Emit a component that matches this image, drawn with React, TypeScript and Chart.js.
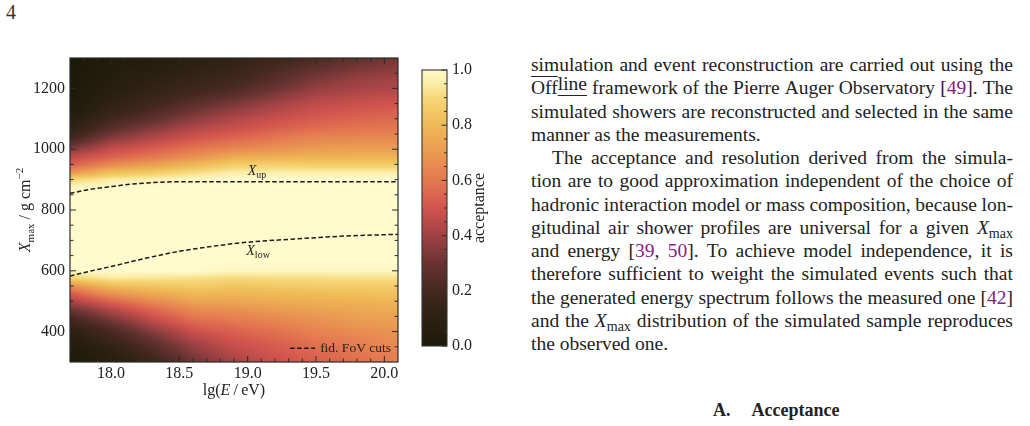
import React, { useEffect, useRef } from "react";
import { Chart, registerables } from "chart.js";

Chart.register(...registerables);

const SERIF = "'Liberation Serif', 'Times New Roman', Times, serif";
const INK = "#222222";
const CITE = "#852085";

// ---------- axes ----------
const E_MIN = 17.7;
const E_MAX = 20.1;
const XMAX_MIN = 300;
const XMAX_MAX = 1300;
const E_TICKS = [18.0, 18.5, 19.0, 19.5, 20.0];
const E_MINOR_TICKS = [17.8, 17.9, 18.1, 18.2, 18.3, 18.4, 18.6, 18.7, 18.8, 18.9, 19.1, 19.2, 19.3, 19.4, 19.6, 19.7, 19.8, 19.9];
const XMAX_TICKS = [400, 600, 800, 1000, 1200];
const XMAX_MINOR_TICKS = [350, 450, 500, 550, 650, 700, 750, 850, 900, 950, 1050, 1100, 1150, 1250];
const ACC_TICKS = [0, 0.2, 0.4, 0.6, 0.8, 1.0];
const ACC_MINOR_TICKS = [0.05, 0.1, 0.15, 0.25, 0.3, 0.35, 0.45, 0.5, 0.55, 0.65, 0.7, 0.75, 0.85, 0.9, 0.95];

// ---------- acceptance map ----------
const ENERGY_COLS = [17.7, 18.0, 18.3, 18.6, 18.9, 19.2, 19.5, 19.8, 20.1];
const XMAX_ROWS = [1300, 1275, 1250, 1225, 1200, 1175, 1150, 1125, 1100, 1075, 1050, 1025, 1000, 975, 950, 925, 900, 875, 850, 825, 800, 775, 750, 725, 700, 675, 650, 625, 600, 575, 550, 525, 500, 475, 450, 425, 400, 375, 350, 325, 300];

const ACC_E17_7 = [0.0, 0.0, 0.0, 0.0, 0.01, 0.01, 0.02, 0.03, 0.06, 0.1, 0.15, 0.23, 0.35, 0.45, 0.53, 0.67, 0.89, 0.98, 1, 1, 1, 1, 1, 1, 1, 1, 1, 1, 1, 0.88, 0.67, 0.52, 0.42, 0.31, 0.22, 0.15, 0.09, 0.06, 0.03, 0.02, 0.01];
const ACC_E18_0 = [0.03, 0.04, 0.05, 0.06, 0.07, 0.09, 0.11, 0.14, 0.19, 0.24, 0.31, 0.39, 0.47, 0.54, 0.65, 0.81, 0.95, 1, 1, 1, 1, 1, 1, 1, 1, 1, 1, 1, 1, 0.94, 0.81, 0.68, 0.55, 0.44, 0.36, 0.28, 0.21, 0.17, 0.12, 0.09, 0.06];
const ACC_E18_3 = [0.05, 0.06, 0.08, 0.1, 0.12, 0.15, 0.18, 0.22, 0.27, 0.33, 0.4, 0.46, 0.53, 0.6, 0.71, 0.85, 0.97, 1, 1, 1, 1, 1, 1, 1, 1, 1, 1, 1, 1, 0.93, 0.84, 0.75, 0.65, 0.56, 0.49, 0.42, 0.35, 0.29, 0.24, 0.2, 0.16];
const ACC_E18_6 = [0.09, 0.1, 0.12, 0.15, 0.17, 0.21, 0.26, 0.31, 0.36, 0.42, 0.47, 0.53, 0.6, 0.67, 0.79, 0.9, 0.99, 1, 1, 1, 1, 1, 1, 1, 1, 1, 1, 1, 1, 0.92, 0.86, 0.8, 0.73, 0.66, 0.6, 0.54, 0.48, 0.43, 0.38, 0.34, 0.31];
const ACC_E18_9 = [0.12, 0.14, 0.16, 0.19, 0.22, 0.27, 0.33, 0.38, 0.43, 0.47, 0.52, 0.58, 0.65, 0.75, 0.86, 0.95, 1, 1, 1, 1, 1, 1, 1, 1, 1, 1, 1, 1, 0.98, 0.9, 0.84, 0.79, 0.74, 0.68, 0.63, 0.58, 0.54, 0.5, 0.47, 0.44, 0.41];
const ACC_E19_2 = [0.17, 0.2, 0.23, 0.26, 0.3, 0.35, 0.4, 0.44, 0.48, 0.52, 0.57, 0.62, 0.68, 0.77, 0.87, 0.95, 1, 1, 1, 1, 1, 1, 1, 1, 1, 1, 1, 1, 0.98, 0.91, 0.85, 0.8, 0.76, 0.71, 0.66, 0.62, 0.58, 0.55, 0.52, 0.5, 0.48];
const ACC_E19_5 = [0.22, 0.26, 0.3, 0.34, 0.38, 0.42, 0.46, 0.49, 0.52, 0.56, 0.61, 0.66, 0.71, 0.78, 0.86, 0.95, 1, 1, 1, 1, 1, 1, 1, 1, 1, 1, 1, 1, 0.98, 0.91, 0.86, 0.81, 0.77, 0.73, 0.69, 0.66, 0.63, 0.6, 0.57, 0.55, 0.53];
const ACC_E19_8 = [0.27, 0.31, 0.35, 0.39, 0.41, 0.45, 0.48, 0.51, 0.55, 0.58, 0.62, 0.67, 0.72, 0.78, 0.86, 0.95, 1, 1, 1, 1, 1, 1, 1, 1, 1, 1, 1, 1, 0.98, 0.92, 0.86, 0.82, 0.78, 0.75, 0.72, 0.69, 0.66, 0.63, 0.61, 0.59, 0.57];
const ACC_E20_1 = [0.32, 0.35, 0.38, 0.41, 0.43, 0.47, 0.5, 0.53, 0.56, 0.59, 0.63, 0.67, 0.72, 0.78, 0.86, 0.95, 1, 1, 1, 1, 1, 1, 1, 1, 1, 1, 1, 1, 0.98, 0.92, 0.86, 0.83, 0.79, 0.76, 0.73, 0.71, 0.68, 0.67, 0.65, 0.63, 0.62];

// ---------- fiducial field-of-view cut lines ----------
const XUP_ENERGY = [17.7, 17.85, 18.0, 18.15, 18.3, 18.5, 19.0, 19.5, 20.1];
const XUP_VALUES = [855, 868, 877, 885, 890, 893, 893, 893, 893];
const XLOW_ENERGY = [17.7, 17.85, 18.0, 18.25, 18.5, 18.75, 19.0, 19.25, 19.5, 19.75, 20.1];
const XLOW_VALUES = [583, 599, 614, 641, 664, 681, 694, 702, 709, 715, 720];

// label anchors (data space)
const XUP_LABEL = { e: 19.0, x: 915 };
const XLOW_LABEL = { e: 18.99, x: 652 };

// ---------- colour map ----------
const CMAP_POS = [0.0, 0.1, 0.2, 0.3, 0.4, 0.5, 0.6, 0.7, 0.8, 0.9, 0.95, 1.0];
const CMAP_RGB = [
  [28, 25, 8], [44, 33, 18], [68, 40, 30], [105, 52, 50], [160, 66, 68], [210, 84, 78],
  [228, 120, 80], [234, 154, 82], [239, 185, 85], [246, 216, 120], [251, 236, 168], [255, 251, 205],
];

function colormap(v: number): number[] {
  const t = Math.max(0, Math.min(1, v));
  let i = 0;
  while (i < CMAP_POS.length - 2 && t > CMAP_POS[i + 1]) i++;
  const f = (t - CMAP_POS[i]) / (CMAP_POS[i + 1] - CMAP_POS[i]);
  const a = CMAP_RGB[i], b = CMAP_RGB[i + 1];
  return [a[0] + (b[0] - a[0]) * f, a[1] + (b[1] - a[1]) * f, a[2] + (b[2] - a[2]) * f];
}

const ACC_GRID = [ACC_E17_7, ACC_E18_0, ACC_E18_3, ACC_E18_6, ACC_E18_9, ACC_E19_2, ACC_E19_5, ACC_E19_8, ACC_E20_1];

function sampleAcceptance(e: number, xm: number): number {
  const cols = ENERGY_COLS, rows = XMAX_ROWS;
  let ci = 0;
  while (ci < cols.length - 2 && e > cols[ci + 1]) ci++;
  let tc = (e - cols[ci]) / (cols[ci + 1] - cols[ci]);
  tc = Math.max(0, Math.min(1, tc));
  let ri = 0;
  while (ri < rows.length - 2 && xm < rows[ri + 1]) ri++;
  let tr = (rows[ri] - xm) / (rows[ri] - rows[ri + 1]);
  tr = Math.max(0, Math.min(1, tr));
  const c0 = ACC_GRID[ci], c1 = ACC_GRID[ci + 1];
  const top = c0[ri] * (1 - tc) + c1[ri] * tc;
  const bot = c0[ri + 1] * (1 - tc) + c1[ri + 1] * tc;
  return top * (1 - tr) + bot * tr;
}

type Part = { t: string; font: string; dy?: number };
function drawParts(ctx: CanvasRenderingContext2D, parts: Part[], x: number, y: number, align: "left" | "center" | "right") {
  let total = 0;
  const widths = parts.map((p) => {
    ctx.font = p.font;
    const w = ctx.measureText(p.t).width;
    total += w;
    return w;
  });
  let cx = align === "left" ? x : align === "center" ? x - total / 2 : x - total;
  ctx.textAlign = "left";
  ctx.textBaseline = "alphabetic";
  parts.forEach((p, i) => {
    ctx.font = p.font;
    ctx.fillText(p.t, cx, y + (p.dy || 0));
    cx += widths[i];
  });
  return total;
}

const heatmapPlugin = {
  id: "heatmap",
  beforeDatasetsDraw(chart: any) {
    const { ctx, chartArea: a, scales } = chart;
    const xs = scales.x, ys = scales.y;
    const w = Math.round(a.right - a.left);
    const h = Math.round(a.bottom - a.top);
    const off = document.createElement("canvas");
    off.width = w;
    off.height = h;
    const octx = off.getContext("2d")!;
    const img = octx.createImageData(w, h);
    const evals: number[] = [];
    for (let i = 0; i < w; i++) evals.push(xs.getValueForPixel(a.left + i + 0.5));
    for (let j = 0; j < h; j++) {
      const xm = ys.getValueForPixel(a.top + j + 0.5);
      for (let i = 0; i < w; i++) {
        const c = colormap(sampleAcceptance(evals[i], xm));
        const k = (j * w + i) * 4;
        img.data[k] = c[0];
        img.data[k + 1] = c[1];
        img.data[k + 2] = c[2];
        img.data[k + 3] = 255;
      }
    }
    octx.putImageData(img, 0, 0);
    ctx.drawImage(off, a.left, a.top);
  },
};

const framePlugin = {
  id: "frameTicks",
  afterDatasetsDraw(chart: any) {
    const { ctx, chartArea: a, scales } = chart;
    const xs = scales.x, ys = scales.y;
    ctx.save();
    ctx.strokeStyle = "#2a2a2a";
    ctx.lineWidth = 1;
    ctx.beginPath();
    const seg = (x1: number, y1: number, x2: number, y2: number) => {
      ctx.moveTo(x1, y1);
      ctx.lineTo(x2, y2);
    };
    E_TICKS.forEach((v) => {
      const p = xs.getPixelForValue(v);
      seg(p, a.bottom, p, a.bottom - 6);
      seg(p, a.top, p, a.top + 6);
    });
    E_MINOR_TICKS.forEach((v) => {
      const p = xs.getPixelForValue(v);
      seg(p, a.bottom, p, a.bottom - 3.5);
      seg(p, a.top, p, a.top + 3.5);
    });
    XMAX_TICKS.forEach((v) => {
      const p = ys.getPixelForValue(v);
      seg(a.left, p, a.left + 6, p);
      seg(a.right, p, a.right - 6, p);
    });
    XMAX_MINOR_TICKS.forEach((v) => {
      const p = ys.getPixelForValue(v);
      seg(a.left, p, a.left + 3.5, p);
      seg(a.right, p, a.right - 3.5, p);
    });
    ctx.stroke();
    ctx.lineWidth = 1.2;
    ctx.strokeRect(a.left, a.top, a.right - a.left, a.bottom - a.top);

    // curve labels
    ctx.fillStyle = INK;
    drawParts(ctx, [
      { t: "X", font: `italic 14px ${SERIF}` },
      { t: "up", font: `10px ${SERIF}`, dy: 3 },
    ], xs.getPixelForValue(XUP_LABEL.e), ys.getPixelForValue(XUP_LABEL.x), "left");
    drawParts(ctx, [
      { t: "X", font: `italic 14px ${SERIF}` },
      { t: "low", font: `10px ${SERIF}`, dy: 3 },
    ], xs.getPixelForValue(XLOW_LABEL.e), ys.getPixelForValue(XLOW_LABEL.x), "left");

    // legend (bottom right)
    const legText = "fid. FoV cuts";
    ctx.font = `13.5px ${SERIF}`;
    const tw = ctx.measureText(legText).width;
    const tx = a.right - 7 - tw;
    const ly = a.bottom - 13.7;
    ctx.textAlign = "left";
    ctx.textBaseline = "middle";
    ctx.fillText(legText, tx, ly + 0.5);
    ctx.setLineDash([4.5, 2.5]);
    ctx.lineWidth = 1.5;
    ctx.strokeStyle = "#1a1a1a";
    ctx.beginPath();
    ctx.moveTo(tx - 30, ly);
    ctx.lineTo(tx - 5, ly);
    ctx.stroke();
    ctx.setLineDash([]);

    // axis titles
    const cx = (a.left + a.right) / 2;
    drawParts(ctx, [
      { t: "lg(", font: `16px ${SERIF}` },
      { t: "E", font: `italic 16px ${SERIF}` },
      { t: "\u2009/\u2009eV)", font: `16px ${SERIF}` },
    ], cx, a.bottom + 32.5, "center");

    ctx.save();
    ctx.translate(30, (a.top + a.bottom) / 2);
    ctx.rotate(-Math.PI / 2);
    drawParts(ctx, [
      { t: "X", font: `italic 16px ${SERIF}` },
      { t: "max", font: `11px ${SERIF}`, dy: 3.5 },
      { t: " / g cm", font: `16px ${SERIF}` },
      { t: "\u22122", font: `11px ${SERIF}`, dy: -7 },
    ], 0, 0, "center");
    ctx.restore();
    ctx.restore();
  },
};

const colorbarPlugin = {
  id: "colorbar",
  beforeDatasetsDraw(chart: any) {
    const { ctx, chartArea: a, scales } = chart;
    const ys = scales.y;
    ctx.save();
    for (let py = Math.floor(a.top); py < Math.ceil(a.bottom); py++) {
      const c = colormap(ys.getValueForPixel(py + 0.5));
      ctx.fillStyle = `rgb(${Math.round(c[0])},${Math.round(c[1])},${Math.round(c[2])})`;
      ctx.fillRect(a.left, py, a.right - a.left, 1);
    }
    ctx.strokeStyle = "#333";
    ctx.lineWidth = 1;
    ctx.beginPath();
    ACC_TICKS.forEach((v) => {
      const p = ys.getPixelForValue(v);
      ctx.moveTo(a.right, p);
      ctx.lineTo(a.right - 5.5, p);
    });
    ACC_MINOR_TICKS.forEach((v) => {
      const p = ys.getPixelForValue(v);
      ctx.moveTo(a.right, p);
      ctx.lineTo(a.right - 3, p);
    });
    ctx.stroke();
    ctx.lineWidth = 1.1;
    ctx.strokeRect(a.left, a.top, a.right - a.left, a.bottom - a.top);

    ctx.fillStyle = INK;
    ctx.save();
    ctx.translate(a.right + 37, (a.top + a.bottom) / 2);
    ctx.rotate(-Math.PI / 2);
    ctx.font = `16px ${SERIF}`;
    ctx.textAlign = "center";
    ctx.textBaseline = "alphabetic";
    ctx.fillText("acceptance", 0, 0);
    ctx.restore();
    ctx.restore();
  },
};

// ---------- right-hand text column ----------
const Cite = ({ n }: { n: string }) => <span style={{ color: CITE }}>{n}</span>;
const Xmax = () => (
  <span>
    <i>X</i>
    <span style={{ fontSize: "0.72em", position: "relative", top: "0.3em" }}>max</span>
  </span>
);
const words = (s: string) => s.split(" ").map((t) => <span>{t}</span>);

const LINES: { parts: React.ReactNode[]; justify: boolean; indent?: number }[] = [
  { parts: words("simulation and event reconstruction are carried out using the"), justify: true },
  {
    parts: [
      <span>
        <span style={{ textDecoration: "overline" }}>Off</span>
        <span
          style={{
            position: "relative",
            top: -4,
            textDecoration: "underline",
            textUnderlineOffset: "5px",
            textDecorationThickness: "1px",
          }}
        >
          line
        </span>
      </span>,
      ...words("framework of the Pierre Auger Observatory"),
      <span>[<Cite n="49" />].</span>,
      <span>The</span>,
    ],
    justify: true,
  },
  { parts: words("simulated showers are reconstructed and selected in the same"), justify: true },
  { parts: words("manner as the measurements."), justify: false },
  { parts: words("The acceptance and resolution derived from the simula-"), justify: true, indent: 21 },
  { parts: words("tion are to good approximation independent of the choice of"), justify: true },
  { parts: words("hadronic interaction model or mass composition, because lon-"), justify: true },
  { parts: [...words("gitudinal air shower profiles are universal for a given"), <Xmax />], justify: true },
  {
    parts: [
      ...words("and energy"),
      <span>[<Cite n="39" />,</span>,
      <span><Cite n="50" />].</span>,
      ...words("To achieve model independence, it is"),
    ],
    justify: true,
  },
  { parts: words("therefore sufficient to weight the simulated events such that"), justify: true },
  { parts: [...words("the generated energy spectrum follows the measured one"), <span>[<Cite n="42" />]</span>], justify: true },
  { parts: [<span>and</span>, <span>the</span>, <Xmax />, ...words("distribution of the simulated sample reproduces")], justify: true },
  { parts: words("the observed one."), justify: false },
];

export default function App() {
  const mainRef = useRef<HTMLCanvasElement>(null);
  const cbarRef = useRef<HTMLCanvasElement>(null);

  useEffect(() => {
    Chart.defaults.font.family = SERIF;
    const lineStyle = {
      showLine: true,
      borderColor: "#1a1a1a",
      borderWidth: 1.5,
      borderDash: [4.5, 2.5],
      pointRadius: 0,
      cubicInterpolationMode: "monotone" as const,
      fill: false,
    };
    const main = new Chart(mainRef.current!, {
      type: "scatter",
      data: {
        datasets: [
          { label: "X_up", data: XUP_ENERGY.map((e, i) => ({ x: e, y: XUP_VALUES[i] })), ...lineStyle },
          { label: "X_low", data: XLOW_ENERGY.map((e, i) => ({ x: e, y: XLOW_VALUES[i] })), ...lineStyle },
        ],
      },
      options: {
        responsive: false,
        animation: false,
        layout: { padding: { left: 0, top: 58, right: 22, bottom: 0 } },
        plugins: { legend: { display: false }, tooltip: { enabled: false } },
        scales: {
          x: {
            type: "linear",
            min: E_MIN,
            max: E_MAX,
            afterBuildTicks: (s: any) => {
              s.ticks = E_TICKS.map((v) => ({ value: v }));
            },
            ticks: {
              callback: (v: any) => Number(v).toFixed(1),
              font: { family: SERIF, size: 16 },
              color: INK,
              padding: 2,
              maxRotation: 0,
              autoSkip: false,
            },
            grid: { display: false, drawTicks: false },
            border: { display: false },
            afterFit: (s: any) => {
              s.height = 64;
            },
          },
          y: {
            type: "linear",
            min: XMAX_MIN,
            max: XMAX_MAX,
            afterBuildTicks: (s: any) => {
              s.ticks = XMAX_TICKS.map((v) => ({ value: v }));
            },
            ticks: {
              callback: (v: any) => String(v),
              font: { family: SERIF, size: 16 },
              color: INK,
              padding: 5,
              autoSkip: false,
            },
            grid: { display: false, drawTicks: false },
            border: { display: false },
            afterFit: (s: any) => {
              s.width = 70;
            },
          },
        },
      },
      plugins: [heatmapPlugin, framePlugin],
    } as any);

    const cbar = new Chart(cbarRef.current!, {
      type: "scatter",
      data: { datasets: [] },
      options: {
        responsive: false,
        animation: false,
        layout: { padding: { left: 22, top: 70, right: 43, bottom: 80 } },
        plugins: { legend: { display: false }, tooltip: { enabled: false } },
        scales: {
          x: { type: "linear", min: 0, max: 1, display: false },
          y: {
            type: "linear",
            position: "right",
            min: 0,
            max: 1,
            afterBuildTicks: (s: any) => {
              s.ticks = ACC_TICKS.map((v) => ({ value: v }));
            },
            ticks: {
              callback: (v: any) => Number(v).toFixed(1),
              font: { family: SERIF, size: 16 },
              color: INK,
              padding: 5,
              autoSkip: false,
            },
            grid: { display: false, drawTicks: false },
            border: { display: false },
            afterFit: (s: any) => {
              s.width = 40;
            },
          },
        },
      },
      plugins: [colorbarPlugin],
    } as any);

    return () => {
      main.destroy();
      cbar.destroy();
    };
  }, []);

  return (
    <div
      style={{
        position: "absolute",
        left: 0,
        top: 0,
        width: 1030,
        height: 426,
        background: "#ffffff",
        overflow: "hidden",
        fontFamily: SERIF,
        color: INK,
      }}
    >
      <div style={{ position: "absolute", left: 6, top: 2, fontSize: 20, lineHeight: "20px", color: "#333" }}>4</div>
      <canvas ref={mainRef} width={420} height={426} style={{ position: "absolute", left: 0, top: 0 }} />
      <canvas ref={cbarRef} width={130} height={426} style={{ position: "absolute", left: 400, top: 0 }} />
      <div style={{ position: "absolute", left: 531, top: 53, width: 482, fontSize: 19.5, lineHeight: "23.25px" }}>
        {LINES.map((ln, i) =>
          ln.justify ? (
            <div
              key={i}
              style={{
                display: "flex",
                justifyContent: "space-between",
                alignItems: "baseline",
                height: 23.25,
                paddingLeft: ln.indent || 0,
                whiteSpace: "nowrap",
              }}
            >
              {ln.parts.map((p, j) => (
                <React.Fragment key={j}>{p}</React.Fragment>
              ))}
            </div>
          ) : (
            <div key={i} style={{ height: 23.25, whiteSpace: "nowrap", paddingLeft: ln.indent || 0 }}>
              {ln.parts.map((p, j) => (
                <React.Fragment key={j}>
                  {j > 0 ? " " : ""}
                  {p}
                </React.Fragment>
              ))}
            </div>
          )
        )}
      </div>
      <div style={{ position: "absolute", left: 713, top: 400, fontSize: 18, lineHeight: "20px", fontWeight: "bold", whiteSpace: "nowrap" }}>
        A.<span style={{ marginLeft: 21 }}>Acceptance</span>
      </div>
    </div>
  );
}
